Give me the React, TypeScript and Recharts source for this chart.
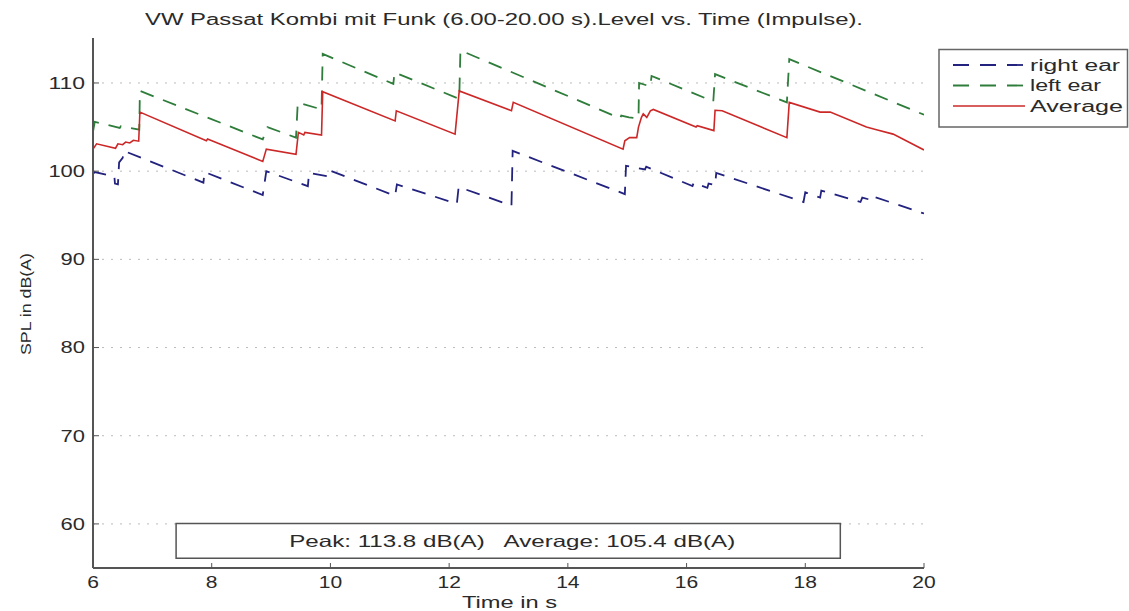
import React from 'react';
import { LineChart, Line, XAxis, YAxis, CartesianGrid, ReferenceArea } from 'recharts';

const FONT = '"Liberation Sans", Arial, sans-serif';

const TITLE = 'VW Passat Kombi mit Funk (6.00-20.00 s).Level vs. Time (Impulse).';
const X_LABEL = 'Time in s';
const Y_LABEL = 'SPL in dB(A)';
const SUMMARY = 'Peak: 113.8 dB(A)   Average: 105.4 dB(A)';

const timeTicks = [6, 8, 10, 12, 14, 16, 18, 20];
const levelTicks = [60, 70, 80, 90, 100, 110];

// [time in s, level in dB(A)]
const rightEar: [number, number][] = [
  [6.0, 99.7], [6.03, 99.9], [6.36, 99.4], [6.37, 98.6], [6.42, 98.5], [6.44, 101.0],
  [6.5, 101.5], [6.52, 102.3], [7.86, 98.7], [7.88, 99.9], [8.86, 97.3], [8.92, 100.0],
  [9.62, 98.3], [9.64, 99.8], [9.96, 99.4], [9.98, 100.1], [11.09, 97.2], [11.12, 98.5],
  [12.13, 96.3], [12.16, 98.2], [13.05, 96.1], [13.07, 102.3], [14.96, 97.4], [14.98, 100.6],
  [15.3, 100.2], [15.32, 100.5], [16.1, 98.3], [16.12, 98.7], [16.35, 98.1], [16.37, 98.6],
  [16.48, 98.4], [16.5, 99.8], [17.97, 96.5], [18.0, 97.6], [18.25, 97.0], [18.27, 97.8],
  [18.93, 96.5], [18.96, 97.0], [19.18, 96.6], [19.2, 97.0], [20.0, 95.2],
];

const leftEar: [number, number][] = [
  [6.0, 104.5], [6.03, 105.6], [6.45, 104.9], [6.47, 105.1], [6.78, 104.7], [6.79, 109.1],
  [8.86, 103.6], [8.94, 105.0], [9.42, 103.8], [9.45, 107.8], [9.85, 107.0], [9.87, 113.3],
  [11.06, 109.9], [11.08, 111.2], [12.17, 108.2], [12.19, 113.7], [14.88, 106.0], [14.9, 106.3],
  [15.03, 106.1], [15.19, 106.0], [15.2, 110.0], [15.39, 109.6], [15.41, 110.8], [16.45, 107.9],
  [16.48, 111.0], [17.69, 107.8], [17.73, 112.7], [20.0, 106.4],
];

const average: [number, number][] = [
  [6.0, 102.5], [6.06, 103.1], [6.38, 102.6], [6.42, 103.1], [6.5, 103.0], [6.55, 103.3],
  [6.62, 103.2], [6.68, 103.5], [6.77, 103.4], [6.79, 106.7], [7.91, 103.45], [7.93, 103.65],
  [8.86, 101.1], [8.92, 102.5], [9.42, 101.9], [9.46, 104.4], [9.55, 104.1], [9.57, 104.4],
  [9.85, 104.1], [9.87, 109.0], [11.09, 105.7], [11.11, 106.85], [12.1, 104.2], [12.17, 109.1],
  [13.05, 106.85], [13.08, 107.8], [14.93, 102.5], [14.96, 103.45], [15.04, 103.8], [15.16, 103.8],
  [15.19, 105.0], [15.24, 106.1], [15.27, 106.5], [15.33, 106.1], [15.39, 106.85], [15.44, 107.0],
  [16.16, 105.0], [16.18, 105.15], [16.46, 104.6], [16.48, 106.9], [16.6, 106.85], [17.69, 103.8],
  [17.73, 107.8], [18.25, 106.7], [18.42, 106.7], [19.03, 105.0], [19.2, 104.7], [19.48, 104.2],
  [20.0, 102.4],
];

const toPoints = (pairs: [number, number][]) => pairs.map(([t, v]) => ({ t, v }));

const series = [
  { name: 'right ear', data: toPoints(rightEar), color: '#23237f', dash: '14 10', width: 1.8, legendW: 90 },
  { name: 'left ear', data: toPoints(leftEar), color: '#2f7d3b', dash: '14 10', width: 1.8, legendW: 71 },
  { name: 'Average', data: toPoints(average), color: '#cc2828', dash: undefined, width: 1.6, legendW: 93 },
];

function YTick({ x, y, payload }: any) {
  const label = String(payload.value);
  return (
    <text x={x} y={y} dy={5.8} textAnchor="end" fontSize={16} fill="#2a2a2a" fontFamily={FONT}
      textLength={label.length * 12.2} lengthAdjust="spacingAndGlyphs">{label}</text>
  );
}

function XTick({ x, y, payload }: any) {
  const label = String(payload.value);
  return (
    <text x={x} y={y} dy={15} textAnchor="middle" fontSize={16} fill="#2a2a2a" fontFamily={FONT}
      textLength={label.length * 11.7} lengthAdjust="spacingAndGlyphs">{label}</text>
  );
}

function SummaryLabel({ viewBox }: any) {
  if (!viewBox) return null;
  const cx = viewBox.x + viewBox.width / 2 + 4;
  const cy = viewBox.y + viewBox.height / 2 + 6;
  return (
    <text x={cx} y={cy} textAnchor="middle" fontSize={16.5} fill="#2a2a2a" fontFamily={FONT}
      style={{ whiteSpace: 'pre' }} textLength={446} lengthAdjust="spacingAndGlyphs">{SUMMARY}</text>
  );
}

export default function App() {
  return (
    <div style={{ position: 'fixed', left: 0, top: 0, width: 1129, height: 611, background: '#fff' }}>
      <LineChart width={1129} height={611} margin={{ top: 38, right: 205, bottom: 0, left: 33 }}>
        <CartesianGrid vertical={false} horizontalValues={levelTicks} stroke="#bbb" strokeDasharray="2 7" />
        <XAxis dataKey="t" type="number" domain={[6, 20]} ticks={timeTicks} allowDataOverflow
          height={43} tickSize={-5} tickMargin={10} tick={<XTick />}
          axisLine={{ stroke: '#555', strokeWidth: 2 }} tickLine={{ stroke: '#555' }} />
        <YAxis type="number" domain={[55, 115.1]} ticks={levelTicks} allowDataOverflow
          width={60} tickSize={-6} tickMargin={14} tick={<YTick />}
          axisLine={{ stroke: '#555', strokeWidth: 2 }} tickLine={{ stroke: '#555' }} />
        <ReferenceArea x1={7.4} x2={18.59} y1={56.1} y2={60.05} fill="#fff" fillOpacity={1}
          stroke="#555" strokeWidth={1.5} ifOverflow="visible" label={<SummaryLabel />} />
        {series.map((s) => (
          <Line key={s.name} data={s.data} dataKey="v" name={s.name} type="linear" stroke={s.color}
            strokeWidth={s.width} strokeDasharray={s.dash} dot={false} isAnimationActive={false} />
        ))}
      </LineChart>

      <svg width={1129} height={611} style={{ position: 'absolute', left: 0, top: 0, pointerEvents: 'none' }}>
        <text x={504} y={25} textAnchor="middle" fontSize={16} fill="#2a2a2a" fontFamily={FONT}
          textLength={718} lengthAdjust="spacingAndGlyphs">{TITLE}</text>
        <text x={509.5} y={608} textAnchor="middle" fontSize={16} fill="#2a2a2a" fontFamily={FONT}
          textLength={95} lengthAdjust="spacingAndGlyphs">{X_LABEL}</text>
        <text transform="translate(31,304) rotate(-90)" textAnchor="middle" fontSize={15} fill="#2a2a2a"
          fontFamily={FONT} textLength={102} lengthAdjust="spacingAndGlyphs">{Y_LABEL}</text>

        {/* legend */}
        <rect x={939} y={49.5} width={188.5} height={77.5} fill="#fff" stroke="#666" strokeWidth={1.5} />
        {series.map((s, i) => {
          const cy = 65 + i * 20.5;
          return (
            <g key={s.name}>
              <line x1={953} x2={1025} y1={cy} y2={cy} stroke={s.color} strokeWidth={s.width}
                strokeDasharray={s.dash ? '16 11' : undefined} />
              <text x={1030} y={cy + 5.8} fontSize={16} fill="#2a2a2a" fontFamily={FONT}
                textLength={s.legendW} lengthAdjust="spacingAndGlyphs">{s.name}</text>
            </g>
          );
        })}
      </svg>
    </div>
  );
}
